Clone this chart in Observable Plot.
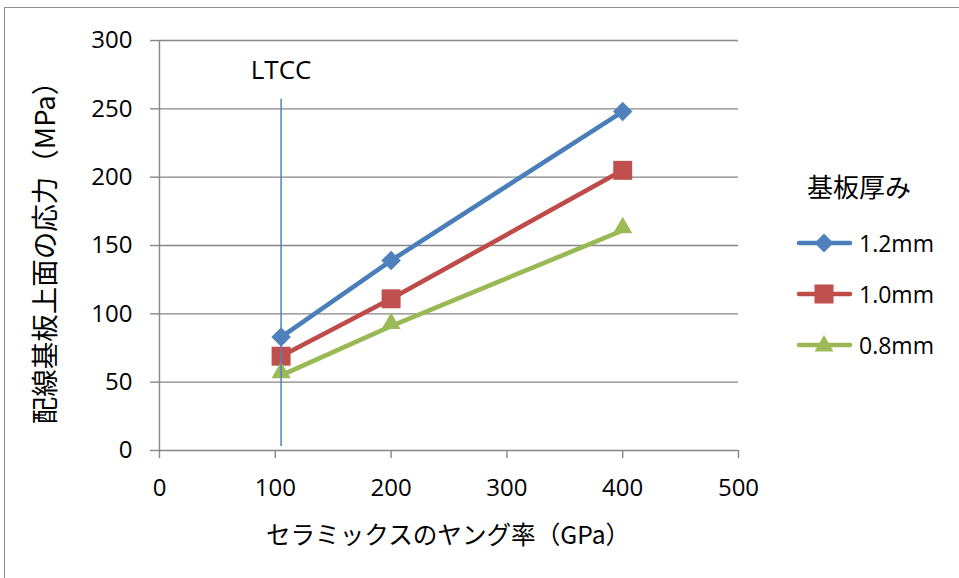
<!DOCTYPE html>
<html>
<head>
<meta charset="utf-8">
<script src="https://cdn.jsdelivr.net/npm/d3@7"></script>
<script src="https://cdn.jsdelivr.net/npm/@observablehq/plot@0.6"></script>
<style>
  html, body { margin: 0; padding: 0; background: #fff; }
  body { width: 959px; height: 578px; position: relative; overflow: hidden;
         font-family: "Open Sans", "Noto Sans CJK JP", sans-serif; color: #000; }
  #frame { position: absolute; left: 4px; top: 7px; width: 1000px; height: 700px;
           border: 1.5px solid #8c8c8c; box-sizing: border-box; }
  #chart { position: absolute; left: 0; top: 0; }
  .title { position: absolute; white-space: nowrap; font-family: "Noto Sans CJK JP", sans-serif; }
  #ytitle { left: 43px; top: 246px; font-size: 27.5px; transform: translate(-50%, -50%) rotate(-90deg); }
  #xtitle { left: 448px; top: 533px; font-size: 24.6px; transform: translate(-50%, -50%); }
  #legend { position: absolute; left: 796px; top: 168px; }
  #legend .lt { font-family: "Noto Sans CJK JP", sans-serif; font-size: 26px; line-height: 36px; margin-left: 11px; margin-bottom: 13px; }
  #legend .row { display: flex; align-items: center; height: 51px; }
  #legend .row span { font-size: 23px; margin-left: 3px; }
</style>
</head>
<body>
<div id="frame"></div>
<div id="chart"></div>
<div id="ytitle" class="title"></div>
<div id="xtitle" class="title"></div>
<div id="legend"></div>
<script>
// ---- data ----
const xValues = [105, 200, 400];               // ヤング率 (GPa)
const s12 = [83, 139, 248];                    // 1.2mm
const s10 = [69, 111, 205];                    // 1.0mm
const s08 = [55, 91, 161];                     // 0.8mm
const seriesNames = ["1.2mm", "1.0mm", "0.8mm"];
const seriesValues = [s12, s10, s08];
const lineColors = ["#4A7EBB", "#BE4B48", "#98B954"];
const markerColors = ["#4F81BD", "#C0504D", "#9BBB59"];
const symbols = ["diamond2", "square", "triangle"];
const markerR = [8.8, 10.7, 7.1];
const markerDy = [0, 0, -2.7];
const xTicks = [0, 100, 200, 300, 400, 500];
const yTicks = [0, 50, 100, 150, 200, 250, 300];
const ltccX = [105];
const ltccRange = [3, 257];
const ltccLabel = "LTCC";
const ltccLabelY = 278;
const xTitle = "セラミックスのヤング率（GPa）";
const yTitle = "配線基板上面の応力（MPa）";
const legendTitle = "基板厚み";

const rows = seriesNames.flatMap((name, i) =>
  xValues.map((x, j) => ({series: name, x, y: seriesValues[i][j]})));

const grey = "#868686";
const marks = [
  Plot.gridY(yTicks.filter(d => d > 0), {stroke: grey, strokeOpacity: 1, strokeWidth: 1.4}),
  Plot.ruleX([0], {stroke: grey, strokeWidth: 1.4}),
  Plot.ruleY([0], {stroke: grey, strokeWidth: 1.4}),
  Plot.axisY(yTicks, {tickSize: 9, tickPadding: 18, fontSize: 24, stroke: grey, strokeWidth: 1.4, label: null, fill: "#000", fontFamily: "Open Sans"}),
  Plot.axisX(xTicks, {tickSize: 8, tickPadding: 20, fontSize: 24, stroke: grey, strokeWidth: 1.4, label: null, fill: "#000", fontFamily: "Open Sans"}),
  Plot.line(rows, {x: "x", y: "y", z: "series", stroke: "series", strokeWidth: 4.6, strokeLinecap: "round", strokeLinejoin: "round"})
];
seriesNames.forEach((name, i) => {
  marks.push(Plot.dot(rows.filter(d => d.series === name), {
    x: "x", y: "y", symbol: () => symbols[i], r: markerR[i], fill: markerColors[i], stroke: "none", dy: markerDy[i]
  }));
});
marks.push(
  Plot.ruleX(ltccX, {y1: ltccRange[0], y2: ltccRange[1], stroke: "#4F81BD", strokeWidth: 1.5}),
  Plot.text(ltccX, {x: d => d, y: () => ltccLabelY, text: () => ltccLabel, fontSize: 26, fill: "#000", fontFamily: "Open Sans"})
);

const chart = Plot.plot({
  width: 959,
  height: 578,
  marginLeft: 159,
  marginRight: 221,
  marginTop: 40,
  marginBottom: 128,
  x: {domain: [0, 500], axis: null},
  y: {domain: [0, 300], axis: null},
  color: {domain: seriesNames, range: lineColors},
  symbol: {domain: symbols, range: symbols},
  style: {background: "transparent", overflow: "visible"},
  marks
});
document.getElementById("chart").appendChild(chart);

document.getElementById("xtitle").textContent = xTitle;
document.getElementById("ytitle").textContent = yTitle;

// legend
const legend = document.getElementById("legend");
const lt = document.createElement("div");
lt.className = "lt"; lt.textContent = legendTitle;
legend.appendChild(lt);
const swatchShapes = [
  '<polygon points="28,-9.5 37.5,0 28,9.5 18.5,0"/>',
  '<rect x="18.5" y="-9.5" width="19" height="19"/>',
  '<polygon points="28,-10 37.5,6.5 18.5,6.5"/>'
];
seriesNames.forEach((name, i) => {
  const row = document.createElement("div");
  row.className = "row";
  row.innerHTML = `<svg width="60" height="24" viewBox="0 -12 60 24" style="overflow:visible">
      <line x1="3" y1="0" x2="54" y2="0" stroke="${lineColors[i]}" stroke-width="4.5" stroke-linecap="round"/>
      <g fill="${markerColors[i]}">${swatchShapes[i]}</g></svg><span></span>`;
  row.querySelector("span").textContent = name;
  legend.appendChild(row);
});
</script>
</body>
</html>
